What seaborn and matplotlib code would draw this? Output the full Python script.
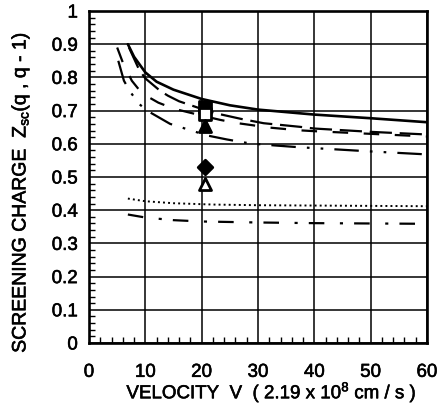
import matplotlib
matplotlib.use("Agg")
import matplotlib.pyplot as plt
import matplotlib.patheffects as pe
from matplotlib.ticker import MultipleLocator, FuncFormatter
import seaborn as sns

# Screening charge curves Z_sc(q, q-1) versus projectile velocity
solid_v = [6.9, 8, 10, 12, 15, 20, 25, 30, 40, 50, 60]
solid_z = [0.90, 0.862, 0.815, 0.787, 0.763, 0.735, 0.716, 0.703, 0.688, 0.677, 0.665]

longdash_v = [7.1, 8.9, 10, 12.6, 14, 16, 20, 23, 27, 31, 37.5, 40, 50, 60]
longdash_z = [0.89, 0.823, 0.797, 0.760, 0.745, 0.728, 0.705, 0.690, 0.675, 0.662, 0.651, 0.646, 0.636, 0.628]

dash_v = [5, 6, 7.6, 9.4, 12.3, 15, 20, 23.3, 26, 29, 31.3, 34.5, 37, 40, 50, 60]
dash_z = [0.89, 0.845, 0.79, 0.752, 0.724, 0.706, 0.685, 0.672, 0.663, 0.656, 0.650, 0.645, 0.641, 0.638, 0.630, 0.622]

dashdotdot_v = [5.2, 6.2, 7.3, 8.9, 10.3, 14.4, 21, 24.5, 28.6, 33, 37, 40, 50, 60]
dashdotdot_z = [0.85, 0.79, 0.757, 0.72, 0.70, 0.66, 0.625, 0.613, 0.601, 0.595, 0.590, 0.587, 0.577, 0.568]

dotted_v = [6.9, 10, 15, 22, 30, 40, 50, 60]
dotted_z = [0.435, 0.427, 0.421, 0.417, 0.415, 0.414, 0.413, 0.412]

dashdot_v = [6.9, 10, 15, 20, 30, 40, 50, 60]
dashdot_z = [0.387, 0.378, 0.370, 0.366, 0.363, 0.361, 0.360, 0.359]

# Measured values at v = 20.6
exp_v = [20.6, 20.6, 20.6, 20.6, 20.6]
exp_z = [0.71, 0.69, 0.655, 0.53, 0.48]
exp_markers = ["s", "s", "^", "D", "^"]
exp_filled = [True, False, True, True, False]

x_ticks = [0, 10, 20, 30, 40, 50, 60]
y_ticks = [0, 0.1, 0.2, 0.3, 0.4, 0.5, 0.6, 0.7, 0.8, 0.9, 1.0]

sns.set_theme(style="white")
plt.rcParams["font.family"] = ["Liberation Sans", "DejaVu Sans"]
plt.rcParams["mathtext.fontset"] = "custom"
plt.rcParams["mathtext.rm"] = "Liberation Sans"
plt.rcParams["mathtext.it"] = "Liberation Sans"

fig = plt.figure(figsize=(4.38, 4.04), dpi=100)
ax = fig.add_axes([89 / 438, 1 - 343 / 404, (427 - 89) / 438, (343 - 11) / 404])

curves = [
    (solid_v, solid_z, None, 1.9),
    (longdash_v, longdash_z, (10, 3.5), 1.6),
    (dash_v, dash_z, (7, 7), 1.6),
    (dashdotdot_v, dashdotdot_z, (11, 5, 1.2, 5, 1.2, 5), 1.6),
    (dotted_v, dotted_z, (1, 1.6), 1.4),
    (dashdot_v, dashdot_z, (7, 7, 1.4, 5), 1.6),
]
for v, z, dash, lw in curves:
    sns.lineplot(x=v, y=z, ax=ax, color="black", linewidth=lw, sort=False)
    ln = ax.lines[-1]
    if dash is not None:
        ln.set_dashes(dash)
        ln.set_dash_capstyle("butt")

for v, z, m, filled in zip(exp_v, exp_z, exp_markers, exp_filled):
    size = 75 if m != "D" else 55
    sns.scatterplot(x=[v], y=[z], ax=ax, marker=m, s=size,
                    color="black" if filled else "white",
                    edgecolor="black", linewidth=2.0, zorder=5)

ax.set_xlim(0, 60)
ax.set_ylim(0, 1)
ax.set_xticks(x_ticks)
ax.set_yticks(y_ticks)
ax.xaxis.set_minor_locator(MultipleLocator(2))
ax.yaxis.set_minor_locator(MultipleLocator(0.02))
ax.yaxis.set_major_formatter(FuncFormatter(lambda y, _: "%g" % round(y, 2)))
ax.grid(True, which="major", color="black", linewidth=1.1)
ax.set_axisbelow(True)

for s in ax.spines.values():
    s.set_color("black")
    s.set_linewidth(1.9)

ax.tick_params(axis="both", which="major", direction="in", length=0,
               labelsize=13.5, colors="black")
ax.tick_params(axis="x", which="major", pad=15)
ax.tick_params(axis="y", which="major", pad=8)
ax.tick_params(axis="both", which="minor", direction="in", length=4,
               width=1, color="black")
ax.tick_params(axis="x", which="minor", bottom=True, top=False)
ax.tick_params(axis="y", which="minor", left=True, right=False)

thick = [pe.withStroke(linewidth=0.4, foreground="black")]
for lbl in ax.get_xticklabels() + ax.get_yticklabels():
    lbl.set_path_effects(thick)

ax.set_xlabel("VELOCITY  V  ( 2.19 x 10$^{8}$ cm / s )", fontsize=13.5,
              color="black", path_effects=thick)
ax.set_ylabel("SCREENING CHARGE  Z$_{sc}$(q , q - 1)", fontsize=14,
              color="black", path_effects=thick)
ax.xaxis.set_label_coords(0.54, -0.112)
ax.yaxis.set_label_coords(-0.17, 0.455)

fig.savefig("out.png", dpi=100)
